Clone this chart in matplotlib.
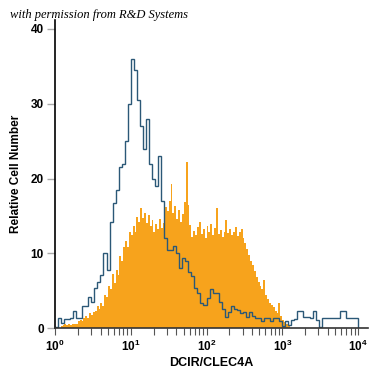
import numpy as np
import matplotlib
matplotlib.use("Agg")
import matplotlib.pyplot as plt
from matplotlib.ticker import LogLocator, FixedLocator, NullFormatter

# histogram counts, log-spaced bins starting at 10^0
# control (blue outline): 0.04 decade bins
control_counts = [
    0.1, 1.3, 0.7, 1.2, 1.2, 1.3, 2.3, 1.3, 1.3, 3.0,
    3.0, 4.2, 3.5, 5.4, 6.1, 7.1, 10.0, 7.8, 14.2, 16.7,
    18.5, 21.5, 22.0, 25.0, 30.0, 36.0, 34.5, 30.5, 27.0, 24.0,
    28.0, 22.0, 20.0, 19.0, 23.0, 17.0, 12.0, 10.5, 10.4, 11.0,
    10.0, 8.0, 9.4, 9.0, 7.5, 7.0, 5.3, 4.7, 3.3, 3.1,
    4.0, 5.2, 4.7, 4.7, 3.5, 2.5, 1.5, 2.2, 3.0, 2.6,
    2.4, 2.0, 2.2, 1.5, 2.2, 1.6, 1.3, 1.3, 0.9, 1.3,
    1.3, 0.9, 1.3, 1.3, 0.9, 0.3, 0.9, 0.4, 1.1, 1.2,
    2.3, 2.3, 1.5, 1.5, 1.3, 2.3, 1.1, 0.2, 1.3, 1.3,
    1.3, 1.3, 1.3, 1.3, 2.3, 2.3, 1.3, 1.3, 1.3, 1.3,
]
control_bin = 0.04

# DCIR/CLEC4A stained (orange fill): 0.025 decade bins
stained_counts = [
    0, 0, 0,
    0.3, 0.4, 0.5, 0.4, 0.5, 0.4, 0.5, 0.5, 0.6,
    0.9, 1.1, 0.9, 1.3,
    1.6, 1.4, 2.0, 1.7, 2.1,
    2.3, 2.9, 2.5,
    3.4, 3.0, 4.4,
    4.1, 5.6,
    5.2, 7.2, 6.0,
    7.8, 7.1, 9.6,
    9.0, 10.8,
    11.6, 10.9, 12.8,
    12.5, 13.6, 12.9,
    14.8, 14.2,
    16.0, 14.7, 15.4, 14.1, 15.1,
    13.6, 14.4, 12.8, 13.9, 13.2, 14.6, 13.4, 14.0,
    16.2, 15.6, 17.0, 19.2,
    15.4, 16.3, 14.6, 15.8, 14.2,
    15.2, 16.8,
    22.2,
    16.4, 13.8, 12.2,
    13.0, 12.4, 13.5, 14.2, 12.6, 13.2, 12.1, 13.7, 12.8, 13.9, 12.5, 13.4, 16.1,
    12.6, 13.1, 12.2, 12.9, 14.4,
    12.7, 13.3, 12.4, 12.9, 13.5, 12.3, 12.8, 13.2,
    12.0, 11.4, 10.6, 9.8, 9.0, 8.4,
    7.6, 6.8, 6.1, 5.6, 5.2,
    6.4, 4.4, 3.9, 3.4, 3.1,
    2.8, 2.3, 2.0, 3.3, 1.6,
    1.1, 0.8, 0.5, 0.3,
]
stained_bin = 0.025

y_ticks = [0, 10, 20, 30, 40]
x_ticks = [1, 10, 100, 1000, 10000]
x_ticklabels = ["$\\mathbf{10^0}$", "$\\mathbf{10^1}$", "$\\mathbf{10^2}$",
                "$\\mathbf{10^3}$", "$\\mathbf{10^4}$"]

plt.rcParams['font.family'] = ['Liberation Sans', 'DejaVu Sans']
plt.rcParams['mathtext.fontset'] = 'custom'
plt.rcParams['mathtext.bf'] = 'Liberation Sans:bold'

fig = plt.figure(figsize=(3.75, 3.75), dpi=100)
ax = fig.add_axes([0.1467, 0.1253, 0.8347, 0.8213])

orange_edges = 10 ** (np.arange(len(stained_counts) + 1) * stained_bin)
blue_edges = 10 ** (np.arange(len(control_counts) + 1) * control_bin)

ax.stairs(stained_counts, orange_edges, fill=True, color='#f7a31c', linewidth=0)
ax.stairs(control_counts, blue_edges, baseline=0, color='#2b5877', linewidth=1.0)

ax.set_xscale('log')
ax.set_xlim(1, 10 ** 4.132)
ax.set_ylim(0, 41.2)

ax.xaxis.set_major_locator(FixedLocator(x_ticks))
ax.set_xticklabels(x_ticklabels)
ax.xaxis.set_minor_locator(LogLocator(base=10, subs=np.arange(2, 10)))
ax.xaxis.set_minor_formatter(NullFormatter())
ax.set_yticks(y_ticks)

for s in ['top', 'right']:
    ax.spines[s].set_visible(False)
ax.spines['left'].set_linewidth(1.2)
ax.spines['bottom'].set_linewidth(1.2)
ax.spines['bottom'].set_color('#333333')

ax.tick_params(axis='x', which='major', direction='out', length=5, width=0.8,
               color='#555555', labelsize=8.5, pad=3)
ax.tick_params(axis='x', which='minor', direction='out', length=5, width=0.8,
               color='#555555')
ax.tick_params(axis='y', direction='out', length=6, width=1.0, color='#aaaaaa',
               labelsize=8.5, pad=2)
for lab in ax.get_yticklabels():
    lab.set_fontweight('bold')

ax.set_xlabel('DCIR/CLEC4A', fontsize=9, fontweight='bold', labelpad=2)
ax.set_ylabel('Relative Cell Number', fontsize=8.5, fontweight='bold', labelpad=6)

fig.text(10 / 375, 1 - 15 / 375, 'with permission from R&D Systems',
         fontsize=9, style='italic', family='Liberation Serif', va='center', ha='left')

fig.savefig('out.png', dpi=100)
